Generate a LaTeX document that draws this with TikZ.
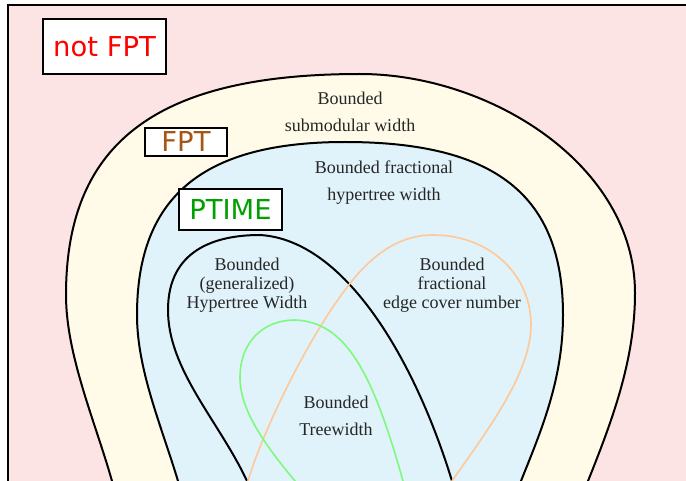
\documentclass[tikz,border=0pt]{standalone}
\usepackage{fontspec}
\setmainfont{Liberation Serif}
\newfontfamily\labelsans{DejaVu Sans}
\usetikzlibrary{positioning}

\definecolor{notFptPink}{RGB}{253,228,228}
\definecolor{fptCream}{RGB}{255,251,232}
\definecolor{ptimeBlue}{RGB}{224,242,250}
\definecolor{fcnOrange}{RGB}{255,200,150}
\definecolor{twGreen}{RGB}{125,250,125}
\definecolor{fptBrown}{RGB}{165,85,20}
\definecolor{ptimeGreen}{RGB}{0,160,0}

\begin{document}
\begin{tikzpicture}[x=0.5pt,y=-0.5pt]

\tikzset{
	classBox/.style={
		draw,
		fill=white,
		line width=1pt,
		inner sep=0pt,
		font=\labelsans\fontsize{13.7}{16}\selectfont
	}
}

\tikzset{
	boundLabel/.style={
		align=center,
		inner sep=0pt,
		text=black!85,
		font=\fontsize{9}{13.5}\selectfont
	}
}

\tikzset{
	boundLabelTight/.style={
		boundLabel,
		font=\fontsize{9}{9.5}\selectfont
	}
}

\tikzset{
	regionLine/.style={
		draw=black,
		line width=1pt
	}
}

\useasboundingbox (0,0) rectangle (686,481);

% not FPT background
\filldraw[fill=notFptPink, draw=black, line width=1.2pt] (8,5) rectangle (760,560);

% FPT region
\filldraw[regionLine, fill=fptCream] (124,520) -- (112,481)
	.. controls (95,421) and (66,355) .. (66,295)
	.. controls (66,140) and (160,74) .. (360,74)
	.. controls (490,74) and (635,165) .. (635,293)
	.. controls (635,360) and (612,421) .. (588,481)
	-- (572,520) -- cycle;

% PTIME region
\filldraw[regionLine, fill=ptimeBlue] (190,520) -- (178,481)
	.. controls (161.5,426) and (137,370) .. (137,315)
	.. controls (137,195) and (205,142) .. (345,142)
	.. controls (495,142) and (563,195) .. (563,315)
	.. controls (563,380) and (541,431) .. (521,481)
	-- (505,520) -- cycle;

% hypertree width
\draw[regionLine] (265,520) -- (247,481)
	.. controls (219,421) and (168,370) .. (168,310)
	.. controls (168,250) and (215,235) .. (260,235)
	.. controls (345,240) and (415,360) .. (452,481)
	-- (464,520);

% fractional edge cover number
\draw[fcnOrange, line width=0.8pt] (235,520) -- (248,481)
	.. controls (258,445) and (300,350) .. (345,290)
	.. controls (367,260) and (395,235) .. (433,235)
	.. controls (490,235) and (531,275) .. (531,325)
	.. controls (531,375) and (483,436) .. (452,481)
	-- (425,520);

% treewidth
\draw[twGreen, line width=0.8pt] (326,520) -- (295,481)
	.. controls (265,445) and (240,410) .. (240,378)
	.. controls (240,340) and (265,320) .. (295,320)
	.. controls (345,322) and (372,370) .. (403,481)
	-- (414,520);

% class boxes
\node[classBox, text=red, minimum width=61.5pt, minimum height=27.5pt] (notFPT) at (104.5,46.5) {not FPT};
\node[classBox, text=fptBrown, minimum width=41pt, minimum height=14pt] (FPT) at (186,142) {FPT};
\node[classBox, text=ptimeGreen, minimum width=51.5pt, minimum height=20.5pt] (PTIME) at (230.5,209.5) {PTIME};

% region labels
\node[boundLabel] (subw) at (350,111.5) {Bounded\\submodular width};
\node[boundLabel] (fhw) at (384,183) {Bounded fractional\\hypertree width};
\node[boundLabelTight] (ghw) at (247,285) {Bounded\\(generalized)\\Hypertree Width};
\node[boundLabelTight] (fcn) at (452,285) {Bounded\\fractional\\edge cover number};
\node[boundLabel] (tw) at (336,415.5) {Bounded\\Treewidth};

\end{tikzpicture}
\end{document}
